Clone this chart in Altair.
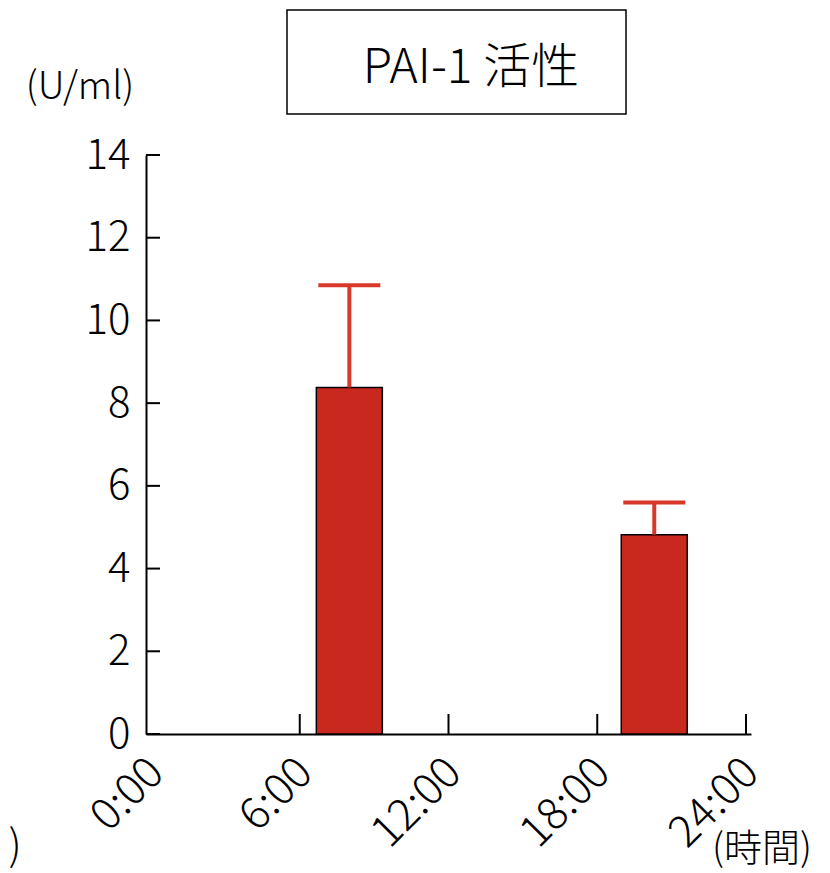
import altair as alt
import pandas as pd

# ---- data ----
times = [8, 20.3]               # hours of sampling
means = [8.38, 4.82]            # PAI-1 activity (U/ml)
uppers = [10.85, 5.6]           # mean + SD
y_ticks = [0, 2, 4, 6, 8, 10, 12, 14]
x_ticks = [6, 12, 18, 24]
x_label_values = [0, 6, 12, 18, 24]
title_text = "PAI-1 活性"
y_unit = "(U/ml)"
x_unit = "(時間)"

FONT = "Noto Sans CJK JP"
FW = 300
W, H = 605, 579
BAR = "#c8281d"
ERR = "#d8382a"

df = pd.DataFrame({"time": times, "mean": means, "upper": uppers})
ydf = pd.DataFrame({"v": y_ticks})
xdf = pd.DataFrame({"v": x_ticks})
one = pd.DataFrame({"a": [0]})

xs = alt.Scale(domain=[0, 24], nice=False, zero=False)
ys = alt.Scale(domain=[0, 14], nice=False)


def x_axis():
    return alt.Axis(
        values=x_label_values,
        labelExpr="datum.value + ':00'",
        labelAngle=-45,
        labelFont=FONT, labelFontSize=44, labelFontWeight=FW, labelColor="black",
        labelPadding=16, labelOffset=-10,
        ticks=False, grid=False, title=None, orient="bottom",
        domainColor="black", domainWidth=2,
    )


def y_axis():
    return alt.Axis(
        values=y_ticks,
        labelFont=FONT, labelFontSize=42, labelFontWeight=FW, labelColor="black",
        labelPadding=16, ticks=False, grid=False, title=None, orient="left",
        domainColor="black", domainWidth=2,
    )


bars = alt.Chart(df).mark_bar(size=66, color=BAR, stroke="black", strokeWidth=1.5).encode(
    x=alt.X("time:Q", scale=xs, axis=x_axis()),
    y=alt.Y("mean:Q", scale=ys, axis=y_axis()),
)
err = alt.Chart(df).mark_rule(color=ERR, strokeWidth=4).encode(
    x=alt.X("time:Q", scale=xs, axis=x_axis()),
    y=alt.Y("mean:Q", scale=ys, axis=y_axis()),
    y2="upper:Q",
)
cap = alt.Chart(df).mark_tick(color=ERR, thickness=4, size=62, orient="horizontal", opacity=1).encode(
    x=alt.X("time:Q", scale=xs, axis=x_axis()),
    y=alt.Y("upper:Q", scale=ys, axis=y_axis()),
)
yt = alt.Chart(ydf).mark_rule(color="black", strokeWidth=2).encode(
    y=alt.Y("v:Q", scale=ys, axis=y_axis()), x=alt.value(0), x2=alt.value(14)
)
xt = alt.Chart(xdf).mark_rule(color="black", strokeWidth=2).encode(
    x=alt.X("v:Q", scale=xs, axis=x_axis()), y=alt.value(H), y2=alt.value(H - 20)
)
box = alt.Chart(one).mark_rect(fill="white", stroke="black", strokeWidth=1.5).encode(
    x=alt.value(141), x2=alt.value(480), y=alt.value(-145), y2=alt.value(-41)
)
ttl = alt.Chart(one).mark_text(text=title_text, font=FONT, fontSize=48, fontWeight=FW,
                               color="black", align="center", baseline="middle").encode(
    x=alt.value(325), y=alt.value(-86)
)
yu = alt.Chart(one).mark_text(text=y_unit, font=FONT, fontSize=38, fontWeight=FW,
                              color="black", align="center", baseline="middle").encode(
    x=alt.value(-66), y=alt.value(-67)
)
xu = alt.Chart(one).mark_text(text=x_unit, font=FONT, fontSize=38, fontWeight=FW,
                              color="black", align="center", baseline="middle").encode(
    x=alt.value(616), y=alt.value(695)
)
paren = alt.Chart(one).mark_text(text=")", font=FONT, fontSize=42, fontWeight=FW,
                                 color="black", align="center", baseline="middle").encode(
    x=alt.value(-131), y=alt.value(692)
)

chart = alt.layer(bars, err, cap, yt, xt, box, ttl, yu, xu, paren).properties(
    width=W, height=H,
    autosize="none",
    background="white",
    padding={"left": 146, "top": 155, "right": 830 - 146 - W, "bottom": 873 - 155 - H},
).configure_view(stroke="transparent", strokeWidth=0).configure_axis(grid=False)

chart.save("out.html", embed_options={"renderer": "svg", "actions": False})
